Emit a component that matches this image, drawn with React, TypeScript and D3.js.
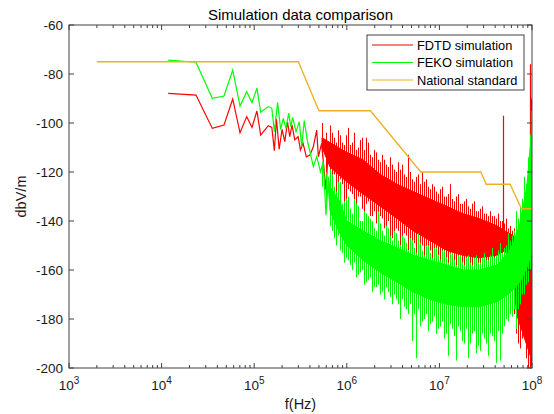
import * as d3 from 'd3';

// frequency axis (Hz) and level axis (dBV/m)
const freqTicks = [1e3, 1e4, 1e5, 1e6, 1e7, 1e8];
const levelTicks = [-200, -180, -160, -140, -120, -100, -80, -60];

// FDTD simulation: low-frequency trace
const fdtdFreq = [1.18e4, 2.35e4, 3.53e4, 4.72e4, 5.86e4, 7.03e4, 8.3e4, 9.47e4, 1.07e5, 1.175e5, 1.42e5, 1.55e5, 1.65e5, 1.74e5, 1.86e5, 2.0e5, 2.14e5, 2.29e5, 2.42e5, 2.56e5, 2.74e5, 2.98e5, 3.16e5, 3.37e5, 3.66e5, 4.0e5, 4.35e5, 4.73e5, 4.93e5, 5.35e5, 5.96e5, 6.3e5];
const fdtdLevel = [-87.9, -88.6, -102.2, -100.8, -90.2, -104, -97.4, -101.8, -95.1, -104.9, -101.1, -101.8, -111.3, -98.4, -110.7, -102.6, -107.6, -99.5, -105.6, -100.8, -106.9, -105.6, -111, -108.3, -113.8, -113.1, -109.7, -102.9, -113.8, -108.3, -127.3, -111];

// FEKO simulation: low-frequency trace
const fekoFreq = [1.18e4, 2.35e4, 3.53e4, 4.72e4, 5.86e4, 7.03e4, 8.3e4, 9.47e4, 1.07e5, 1.175e5, 1.42e5, 1.55e5, 1.65e5, 1.79e5, 1.93e5, 2.06e5, 2.2e5, 2.36e5, 2.48e5, 2.6e5, 2.83e5, 3.07e5, 3.26e5, 3.47e5, 3.74e5, 4.0e5, 4.35e5, 4.73e5, 5.2e5, 5.57e5, 5.96e5, 6.3e5];
const fekoLevel = [-74.3, -75.2, -89.9, -89.0, -78.4, -93.1, -87.2, -91.7, -85.8, -95.6, -93.3, -94, -103.5, -91.7, -102.6, -98.1, -102.2, -96, -101.5, -97.7, -103.5, -99.5, -109.7, -99, -107, -111.7, -117.8, -113.7, -119.9, -115.8, -137.6, -123.3];

// National standard limit
const stdFreq = [2e3, 3e5, 5e5, 1.8e6, 6.3e6, 2.8e7, 3.2e7, 5.8e7, 7.7e7, 1e8];
const stdLevel = [-75, -75, -95, -95, -120, -120, -125, -125, -135, -135];

// dense high-frequency part: solid core of each trace
const fdtdBandFreq = [5.4e5, 6.6e5, 1e6, 1.5e6, 2.3e6, 3.5e6, 5.2e6, 7.9e6, 1.2e7, 1.8e7, 2.7e7, 4.2e7, 5.1e7, 6.3e7, 6.8e7, 8e7, 9.2e7, 1e8];
const fdtdBandHigh = [-106, -108, -112, -115, -121, -125, -128, -131, -134, -137, -139, -142, -144, -146, -153, -151, -147, -143];
const fdtdBandLow = [-110, -118, -124, -129, -134, -139, -144, -148, -152, -154, -155, -154, -152, -160, -178, -186, -193, -197];

const fekoBandFreq = [6.3e5, 6.6e5, 8.4e5, 1e6, 1.5e6, 2.3e6, 3.5e6, 5.2e6, 7.9e6, 1.2e7, 1.8e7, 2.7e7, 4.2e7, 5.5e7, 6.3e7, 7.4e7, 8.8e7, 1e8];
const fekoBandHigh = [-122, -126, -132, -140, -144, -148, -151, -154, -156, -158, -160, -160, -158, -153, -149, -141, -126, -101];
const fekoBandLow = [-126, -136, -145, -150, -156, -161, -165, -169, -172, -174, -175, -175, -173, -170, -168, -165, -159, -153];

// dense part: noise extremes around the core, first set of columns
const noiseFreq = [6.92e5, 7.64e5, 8.45e5, 9.33e5, 1.03e6, 1.14e6, 1.26e6, 1.39e6, 1.53e6, 1.69e6,
  1.87e6, 2.07e6, 2.28e6, 2.52e6, 2.79e6, 3.08e6, 3.4e6, 3.76e6, 4.15e6, 4.58e6,
  5.06e6, 5.59e6, 6.17e6, 6.82e6, 7.53e6, 8.32e6, 9.19e6, 1.01e7, 1.12e7, 1.24e7,
  1.37e7, 1.51e7, 1.67e7, 1.84e7, 2.04e7, 2.25e7, 2.48e7, 2.74e7, 3.03e7, 3.35e7,
  3.7e7, 4.08e7, 4.51e7, 4.98e7, 5.5e7, 6.08e7, 6.71e7, 7.41e7, 8.2e7, 9.05e7];
const fdtdNoiseHigh = [-104, -108, -105, -109, -102, -108, -111, -107, -111, -108,
  -114, -112, -116, -115, -118, -117, -120, -119, -121, -113,
  -123, -122, -125, -124, -126, -125, -128, -127, -130, -129,
  -131, -130, -133, -132, -134, -133, -136, -135, -137, -138,
  -138, -139, -140, -141, -143, -144, -152, -150, -148, -146];
const fdtdNoiseLow = [-124, -130, -123, -134, -127, -129, -133, -130, -137, -132,
  -138, -141, -138, -143, -140, -147, -143, -150, -145, -152,
  -148, -155, -151, -156, -152, -157, -154, -158, -155, -158,
  -156, -159, -157, -160, -158, -160, -159, -160, -159, -160,
  -158, -159, -157, -158, -156, -172, -186, -192, -187, -200];
const fekoNoiseHigh = [-121, -128, -124, -132, -130, -137, -133, -140, -136, -138,
  -140, -144, -141, -146, -143, -148, -145, -150, -147, -152,
  -148, -153, -149, -154, -150, -155, -151, -156, -152, -157,
  -153, -158, -154, -158, -154, -158, -154, -157, -153, -156,
  -151, -154, -149, -151, -145, -146, -136, -134, -122, -114];
const fekoNoiseLow = [-144, -150, -152, -157, -156, -160, -163, -161, -166, -164,
  -169, -167, -170, -172, -169, -174, -172, -180, -175, -178,
  -189, -196, -183, -180, -185, -181, -186, -183, -188, -195,
  -184, -197, -185, -190, -196, -186, -194, -193, -188, -195,
  -187, -198, -197, -183, -181, -179, -184, -174, -170, -165];

// dense part: second set of columns, in between the first
const noiseFreq2 = [5.4e5, 5.96e5, 6.59e5,
  7.27e5, 8.04e5, 8.88e5, 9.8e5, 1.08e6, 1.2e6, 1.32e6, 1.46e6, 1.61e6, 1.78e6,
  1.97e6, 2.17e6, 2.4e6, 2.65e6, 2.93e6, 3.24e6, 3.57e6, 3.95e6, 4.36e6, 4.82e6,
  5.32e6, 5.87e6, 6.49e6, 7.17e6, 7.91e6, 8.74e6, 9.66e6, 1.07e7, 1.18e7, 1.3e7,
  1.44e7, 1.59e7, 1.75e7, 1.94e7, 2.14e7, 2.36e7, 2.61e7, 2.88e7, 3.18e7, 3.52e7,
  3.89e7, 4.29e7, 4.74e7, 5.24e7, 5.78e7, 6.39e7, 7.06e7, 7.8e7, 8.61e7, 9.51e7];
const fdtdNoise2High = [-100, -104, -101,
  -106, -103, -108, -105, -109, -104, -110, -106, -106, -113,
  -111, -115, -113, -117, -114, -119, -116, -117, -122, -120,
  -124, -121, -120, -123, -127, -126, -129, -126, -130, -125,
  -132, -129, -133, -131, -135, -132, -136, -134, -137, -136,
  -138, -137, -140, -139, -142, -143, -150, -149, -147, -143];
const fdtdNoise2Low = [-114, -120, -124,
  -121, -128, -125, -131, -128, -138, -130, -135, -133, -138,
  -136, -141, -139, -144, -150, -146, -144, -149, -146, -156,
  -149, -153, -150, -155, -152, -156, -154, -157, -155, -158,
  -156, -158, -157, -159, -158, -160, -158, -160, -159, -160,
  -158, -159, -157, -157, -165, -178, -190, -188, -196, -199];
const fekoNoise2High = [-116, -121, -119,
  -126, -124, -133, -131, -135, -131, -134, -140, -137, -139,
  -143, -136, -144, -142, -146, -144, -148, -146, -149, -147,
  -151, -145, -152, -150, -153, -151, -154, -152, -155, -153,
  -156, -154, -157, -155, -157, -155, -157, -155, -156, -154,
  -155, -152, -153, -150, -148, -144, -139, -131, -125, -105];
const fekoNoise2Low = [-126, -132, -142,
  -147, -146, -153, -155, -158, -157, -162, -160, -165, -163,
  -167, -166, -169, -167, -171, -170, -174, -172, -176, -174,
  -178, -176, -181, -178, -182, -179, -184, -181, -186, -182,
  -187, -183, -189, -184, -190, -185, -191, -186, -190, -186,
  -189, -185, -186, -180, -178, -176, -176, -170, -166, -160];

// isolated tall spikes
const fdtdPeakFreq = [4.83e7, 9.5e7, 9.75e7];
const fdtdPeakHigh = [-97, -76, -90];
const fdtdPeakLow = [-150, -200, -199];
const fekoPeakFreq = [9.7e7];
const fekoPeakHigh = [-95];
const fekoPeakLow = [-150];

const legendNames = ['FDTD simulation', 'FEKO simulation', 'National standard'];
const RED = '#ff0000';
const GREEN = '#00ff00';
const ORANGE = '#EDB120';
const AXIS = '#404040';
const FONT = '"Liberation Sans", Arial, Helvetica, sans-serif';

export default function App() {
  const x = d3.scaleLog().domain([1e3, 1e8]).range([69, 532]);
  const y = d3.scaleLinear().domain([-200, -60]).range([368, 25]);
  const [x0, x1] = x.range();
  const [y0, y1] = y.range();

  const trace = (fs: number[], vs: number[]) =>
    d3.line<number>().x((_, i) => x(fs[i])).y((_, i) => y(vs[i]))(fs) || '';
  const band = (fs: number[], hi: number[], lo: number[]) =>
    d3.area<number>().x((_, i) => x(fs[i])).y1((_, i) => y(hi[i])).y0((_, i) => y(lo[i]))(fs) || '';
  // vertical noise columns, snapped to the pixel grid so they stay saturated
  const spikes = (fs: number[], hi: number[], lo: number[]) =>
    fs.map((f, i) => `M${Math.round(x(f)) + 0.5},${y(hi[i])}V${y(lo[i])}`).join('');

  const minor = x.ticks().filter(t => !freqTicks.includes(t));
  const legendColors = [RED, GREEN, ORANGE];

  return (
    <svg width={554} height={414} style={{ position: 'fixed', left: 0, top: 0, background: '#fff' }} fontFamily={FONT}>
      <defs>
        <clipPath id="plot">
          <rect x={x0} y={y1} width={x1 - x0} height={y0 - y1} />
        </clipPath>
      </defs>
      <rect x={0} y={0} width={554} height={414} fill="#fff" />

      <g clipPath="url(#plot)" fill="none">
        {/* FDTD */}
        <path d={trace(fdtdFreq, fdtdLevel)} stroke={RED} strokeWidth={1.2} />
        <path d={band(fdtdBandFreq, fdtdBandHigh, fdtdBandLow)} fill={RED} stroke={RED} strokeWidth={1} />
        <path d={spikes(noiseFreq, fdtdNoiseHigh, fdtdNoiseLow)} stroke={RED} strokeWidth={1} />
        <path d={spikes(noiseFreq2, fdtdNoise2High, fdtdNoise2Low)} stroke={RED} strokeWidth={1} />
        <path d={spikes(fdtdPeakFreq, fdtdPeakHigh, fdtdPeakLow)} stroke={RED} strokeWidth={1.2} />
        {/* FEKO */}
        <path d={trace(fekoFreq, fekoLevel)} stroke={GREEN} strokeWidth={1.2} />
        <path d={band(fekoBandFreq, fekoBandHigh, fekoBandLow)} fill={GREEN} stroke={GREEN} strokeWidth={1} />
        <path d={spikes(noiseFreq, fekoNoiseHigh, fekoNoiseLow)} stroke={GREEN} strokeWidth={1} />
        <path d={spikes(noiseFreq2, fekoNoise2High, fekoNoise2Low)} stroke={GREEN} strokeWidth={1} />
        <path d={spikes(fekoPeakFreq, fekoPeakHigh, fekoPeakLow)} stroke={GREEN} strokeWidth={1.2} />
        {/* standard */}
        <path d={trace(stdFreq, stdLevel)} stroke={ORANGE} strokeWidth={1.3} />
      </g>

      {/* axes box and ticks */}
      <g stroke={AXIS} strokeWidth={1} fill="none">
        <rect x={x0} y={y1} width={x1 - x0} height={y0 - y1} />
        {freqTicks.map(t => (
          <path key={'M' + t} d={`M${x(t)},${y0}v-5M${x(t)},${y1}v5`} />
        ))}
        {minor.map(t => (
          <path key={'m' + t} d={`M${x(t)},${y0}v-3M${x(t)},${y1}v3`} />
        ))}
        {levelTicks.map(t => (
          <path key={'y' + t} d={`M${x0},${y(t)}h5M${x1},${y(t)}h-5`} />
        ))}
      </g>

      <g fill="#1a1a1a" fontSize={13.5}>
        {levelTicks.map(t => (
          <text key={t} x={x0 - 6} y={y(t) + 5} textAnchor="end">{t}</text>
        ))}
        {freqTicks.map(t => (
          <text key={t} x={x(t)} y={390} textAnchor="middle">
            10<tspan dy={-6} fontSize={10}>{Math.round(Math.log10(t))}</tspan>
          </text>
        ))}
      </g>

      <text x={(x0 + x1) / 2} y={20} textAnchor="middle" fontSize={15} fill="#000">Simulation data comparison</text>
      <text x={(x0 + x1) / 2} y={409} textAnchor="middle" fontSize={14.5} fill="#1a1a1a">f(Hz)</text>
      <text transform={`translate(26,${(y0 + y1) / 2}) rotate(-90)`} textAnchor="middle" fontSize={14.5} fill="#1a1a1a">dbV/m</text>

      {/* legend */}
      <g>
        <rect x={367} y={35} width={157} height={55} fill="#fff" stroke={AXIS} strokeWidth={1} />
        {legendNames.map((name, i) => (
          <g key={name}>
            <line x1={372} x2={413} y1={45 + i * 17.5} y2={45 + i * 17.5} stroke={legendColors[i]} strokeWidth={1.2} />
            <text x={417} y={49.5 + i * 17.5} fontSize={12.8} fill="#000">{name}</text>
          </g>
        ))}
      </g>
    </svg>
  );
}
